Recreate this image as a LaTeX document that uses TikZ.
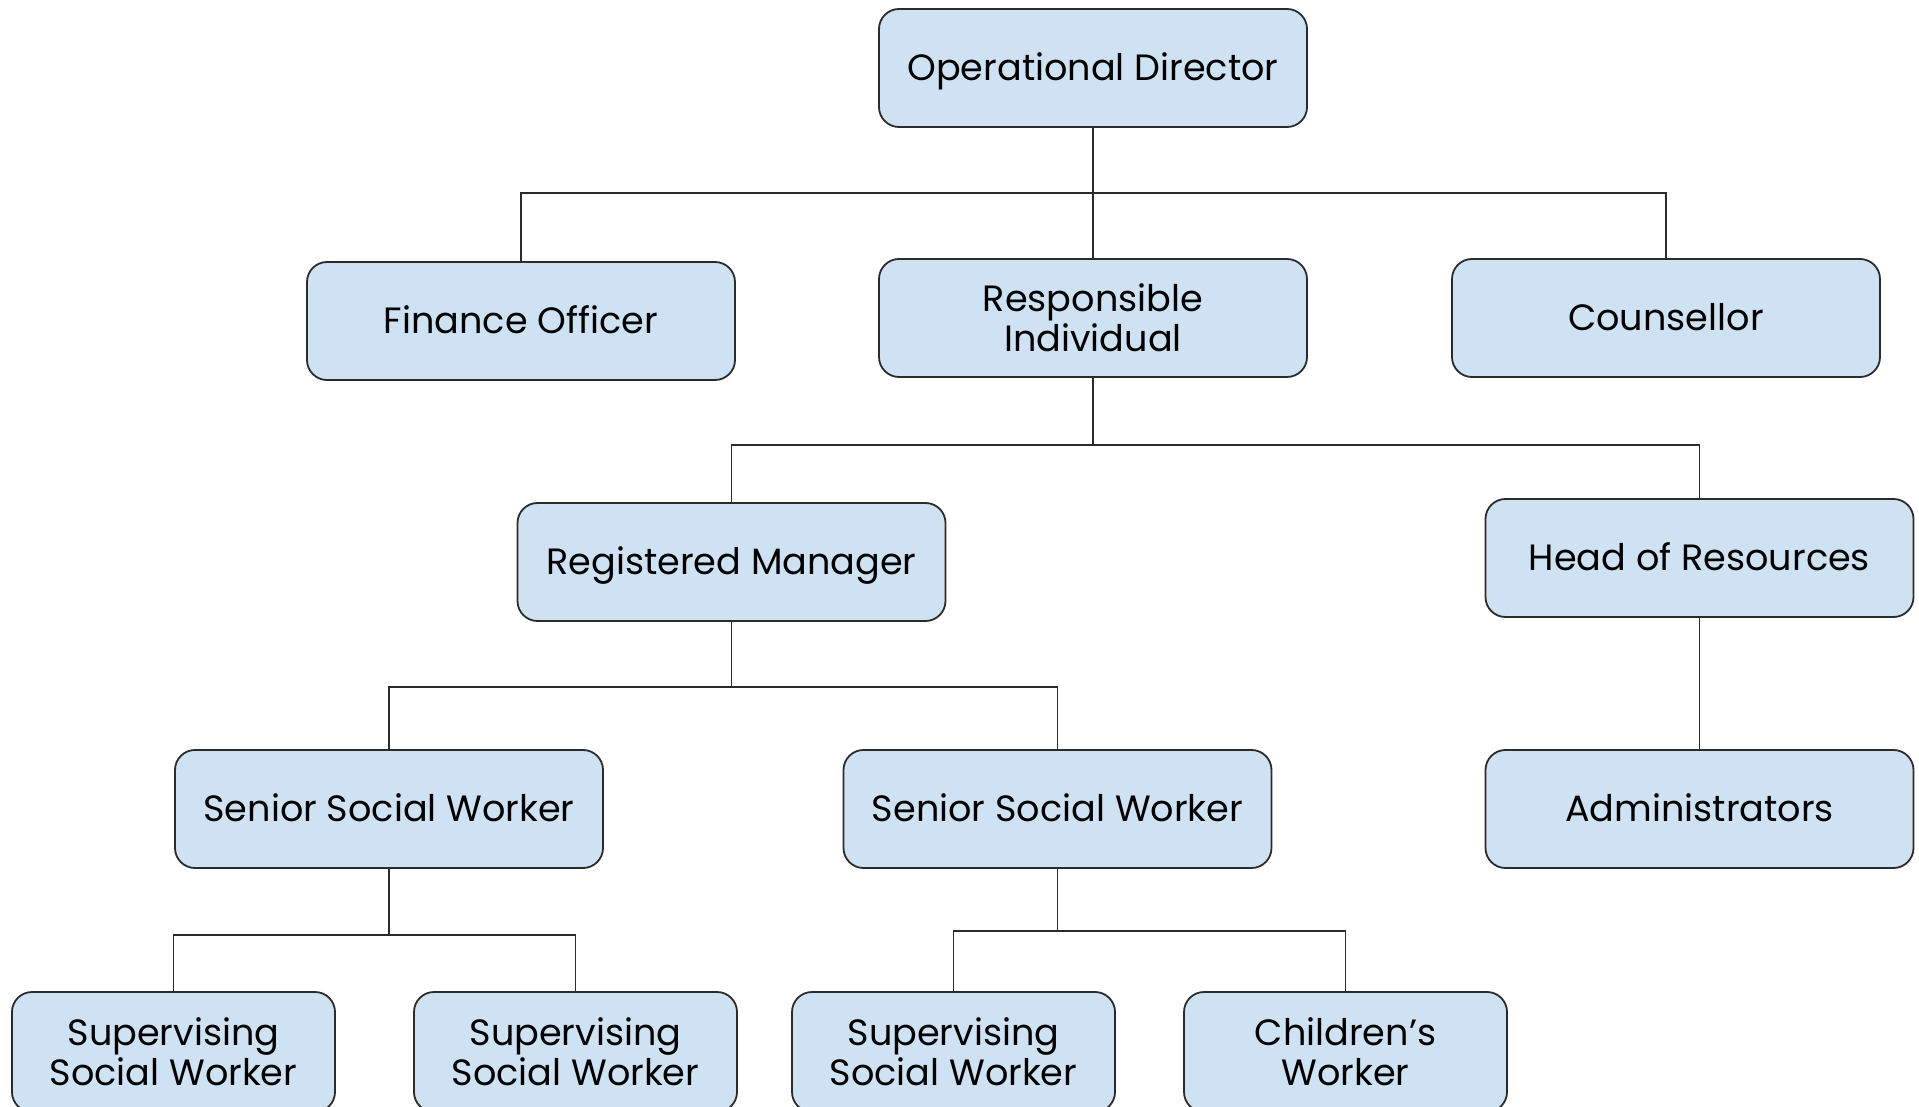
\documentclass[tikz,border=0pt]{standalone}
\usepackage{fontspec}
\setmainfont{Poppins}
\definecolor{boxblue}{HTML}{CFE2F3}
\definecolor{edge}{HTML}{2B2B2B}
\begin{document}
\begin{tikzpicture}[x=0.5pt,y=-0.5pt,
  box/.style={draw=edge, line width=0.9pt, fill=boxblue, rounded corners=10pt,
    inner sep=0pt, align=center, minimum width=214pt, minimum height=59pt,
    font=\fontsize{18.3}{19.8}\selectfont},
  one/.style={text height=15.5pt, text depth=2.7pt},
  smallbox/.style={box, minimum width=161.5pt, minimum height=60pt},
  link/.style={draw=edge, line width=0.9pt}]
\useasboundingbox (0,0) rectangle (1919,1107);
\node[box,one] (od) at (1093,68) {Operational Director};
\node[box,one] (fo) at (521,321) {Finance Officer};
\node[box] (ri) at (1093,318) {Responsible\\Individual};
\node[box,one] (co) at (1666,318) {Counsellor};
\node[box,one] (rm) at (731.5,562) {Registered Manager};
\node[box,one] (hr) at (1699.5,558) {Head of Resources};
\node[box,one] (s1) at (389,809) {Senior Social Worker};
\node[box,one] (s2) at (1057.5,809) {Senior Social Worker};
\node[box,one] (ad) at (1699.5,809) {Administrators};
\node[smallbox] (p1) at (173.5,1052) {Supervising\\Social Worker};
\node[smallbox] (p2) at (575.5,1052) {Supervising\\Social Worker};
\node[smallbox] (p3) at (953.5,1052) {Supervising\\Social Worker};
\node[smallbox] (cw) at (1345.5,1052) {Children’s\\Worker};
\coordinate (j1) at (1093,193);
\coordinate (j2) at (1093,445);
\coordinate (j3) at (731.5,687);
\coordinate (j4) at (389,935);
\coordinate (j5) at (1057.5,931);
\draw[link] (od.south) -- (ri.north);
\draw[link] (fo.north) -- (fo.north |- j1) -- (co.north |- j1) -- (co.north);
\draw[link] (ri.south) -- (j2);
\draw[link] (rm.north) -- (rm.north |- j2) -- (hr.north |- j2) -- (hr.north);
\draw[link] (hr.south) -- (ad.north);
\draw[link] (rm.south) -- (j3);
\draw[link] (s1.north) -- (s1.north |- j3) -- (s2.north |- j3) -- (s2.north);
\draw[link] (s1.south) -- (j4);
\draw[link] (p1.north) -- (p1.north |- j4) -- (p2.north |- j4) -- (p2.north);
\draw[link] (s2.south) -- (j5);
\draw[link] (p3.north) -- (p3.north |- j5) -- (cw.north |- j5) -- (cw.north);
\end{tikzpicture}
\end{document}
